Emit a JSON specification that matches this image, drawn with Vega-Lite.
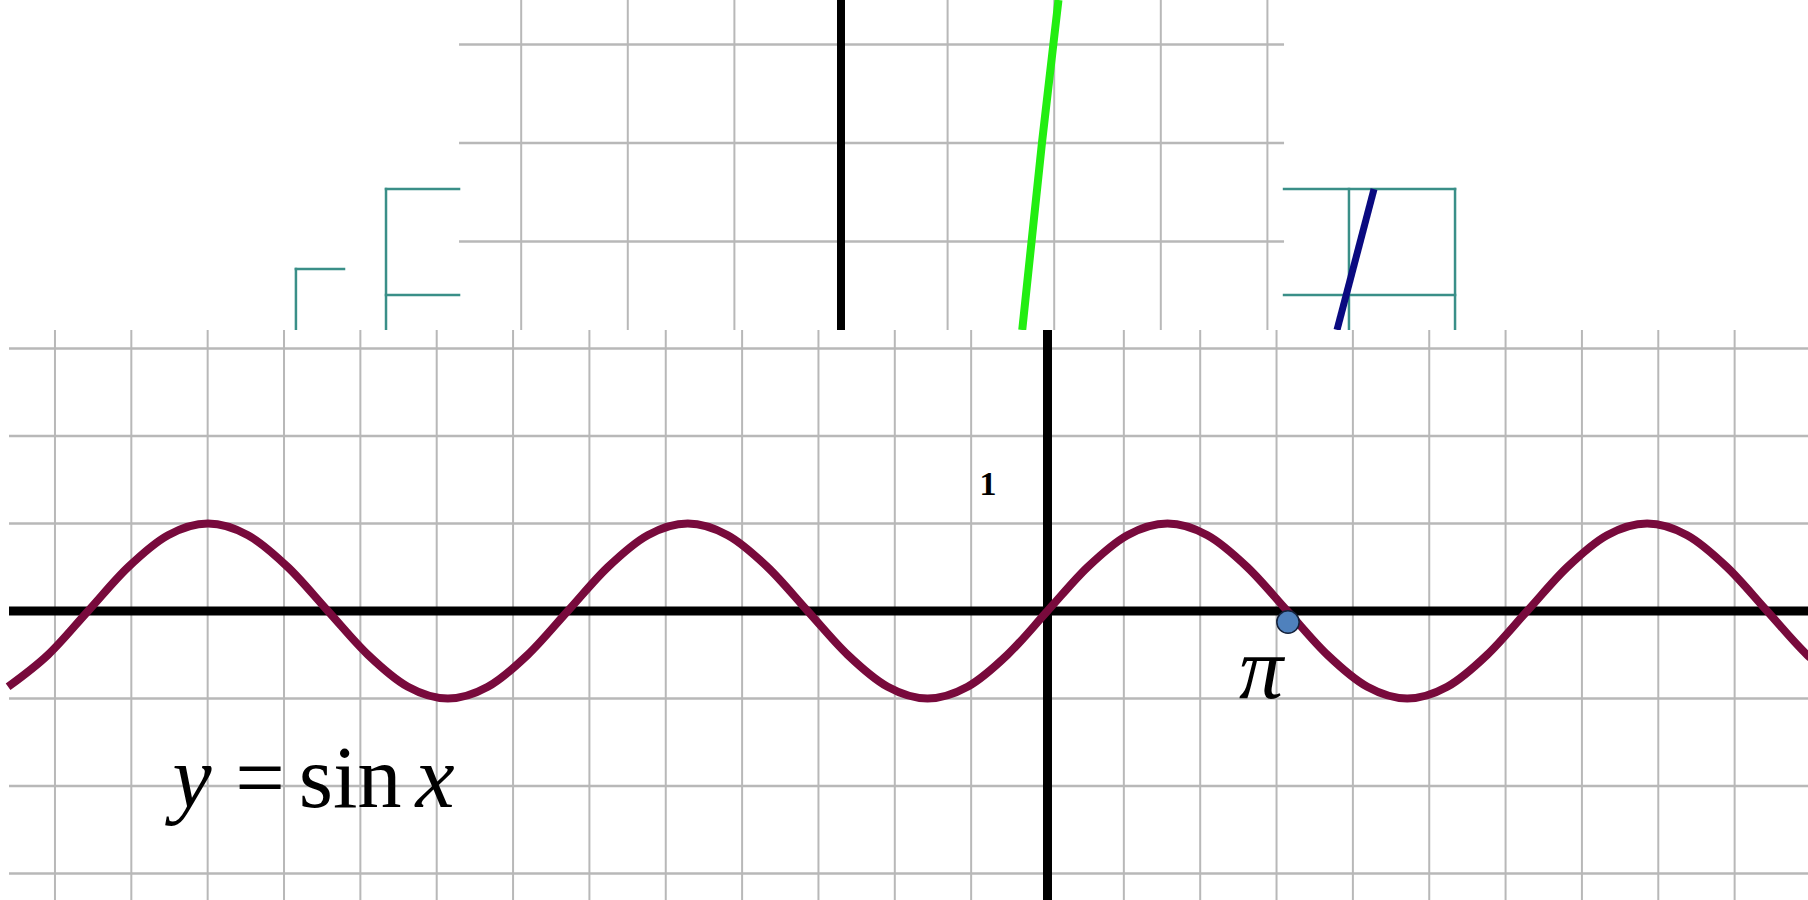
{
  "$schema": "https://vega.github.io/schema/vega-lite/v6.json",
  "width": 1808,
  "height": 900,
  "padding": 0,
  "autosize": {"type": "none"},
  "background": "white",
  "config": {"view": {"stroke": null}, "axis": {"disable": true}, "legend": {"disable": true}},
  "datasets": {
    "topGridV": [
      {"x": -3, "x2": -3, "y": 0.102, "y2": 3.452},
      {"x": -2, "x2": -2, "y": 0.102, "y2": 3.452},
      {"x": -1, "x2": -1, "y": 0.102, "y2": 3.452},
      {"x": 1, "x2": 1, "y": 0.102, "y2": 3.452},
      {"x": 2, "x2": 2, "y": 0.102, "y2": 3.452},
      {"x": 3, "x2": 3, "y": 0.102, "y2": 3.452},
      {"x": 4, "x2": 4, "y": 0.102, "y2": 3.452}
    ],
    "topGridH": [
      {"x": -3.583, "x2": 4.156, "y": 1, "y2": 1},
      {"x": -3.583, "x2": 4.156, "y": 2, "y2": 2},
      {"x": -3.583, "x2": 4.156, "y": 3, "y2": 3}
    ],
    "topAxis": [{"x": 0, "x2": 0, "y": 0.102, "y2": 3.452}],
    "teal": [
      {"x": -4.268, "x2": -4.268, "y": 0.102, "y2": 1.533},
      {"x": -4.268, "x2": -3.583, "y": 1.533, "y2": 1.533},
      {"x": -4.268, "x2": -3.583, "y": 0.457, "y2": 0.457},
      {"x": -5.113, "x2": -5.113, "y": 0.102, "y2": 0.721},
      {"x": -5.113, "x2": -4.662, "y": 0.721, "y2": 0.721},
      {"x": 4.156, "x2": 5.76, "y": 1.533, "y2": 1.533},
      {"x": 4.156, "x2": 5.76, "y": 0.457, "y2": 0.457},
      {"x": 4.765, "x2": 4.765, "y": 0.102, "y2": 1.533},
      {"x": 5.76, "x2": 5.76, "y": 0.102, "y2": 1.533}
    ],
    "green": [
      {"x": 2.04, "y": 3.452},
      {"x": 1.885, "y": 2.0},
      {"x": 1.7, "y": 0.102}
    ],
    "navy": [
      {"x": 5.0, "y": 1.533},
      {"x": 4.653, "y": 0.102}
    ],
    "panel": [{"x": -13.602, "x2": 9.961, "y": -3.303, "y2": 3.211}],
    "gridV": [
      {"x": -13, "x2": -13, "y": -3.303, "y2": 3.211},
      {"x": -12, "x2": -12, "y": -3.303, "y2": 3.211},
      {"x": -11, "x2": -11, "y": -3.303, "y2": 3.211},
      {"x": -10, "x2": -10, "y": -3.303, "y2": 3.211},
      {"x": -9, "x2": -9, "y": -3.303, "y2": 3.211},
      {"x": -8, "x2": -8, "y": -3.303, "y2": 3.211},
      {"x": -7, "x2": -7, "y": -3.303, "y2": 3.211},
      {"x": -6, "x2": -6, "y": -3.303, "y2": 3.211},
      {"x": -5, "x2": -5, "y": -3.303, "y2": 3.211},
      {"x": -4, "x2": -4, "y": -3.303, "y2": 3.211},
      {"x": -3, "x2": -3, "y": -3.303, "y2": 3.211},
      {"x": -2, "x2": -2, "y": -3.303, "y2": 3.211},
      {"x": -1, "x2": -1, "y": -3.303, "y2": 3.211},
      {"x": 1, "x2": 1, "y": -3.303, "y2": 3.211},
      {"x": 2, "x2": 2, "y": -3.303, "y2": 3.211},
      {"x": 3, "x2": 3, "y": -3.303, "y2": 3.211},
      {"x": 4, "x2": 4, "y": -3.303, "y2": 3.211},
      {"x": 5, "x2": 5, "y": -3.303, "y2": 3.211},
      {"x": 6, "x2": 6, "y": -3.303, "y2": 3.211},
      {"x": 7, "x2": 7, "y": -3.303, "y2": 3.211},
      {"x": 8, "x2": 8, "y": -3.303, "y2": 3.211},
      {"x": 9, "x2": 9, "y": -3.303, "y2": 3.211}
    ],
    "gridH": [
      {"x": -13.602, "x2": 9.961, "y": 3, "y2": 3},
      {"x": -13.602, "x2": 9.961, "y": 2, "y2": 2},
      {"x": -13.602, "x2": 9.961, "y": 1, "y2": 1},
      {"x": -13.602, "x2": 9.961, "y": -1, "y2": -1},
      {"x": -13.602, "x2": 9.961, "y": -2, "y2": -2},
      {"x": -13.602, "x2": 9.961, "y": -3, "y2": -3}
    ],
    "axes": [
      {"x": -13.602, "x2": 9.961, "y": 0, "y2": 0},
      {"x": 0, "x2": 0, "y": -3.303, "y2": 3.211}
    ],
    "sine": [
      {"x": -13.614, "y": -0.866}, {"x": -13.09, "y": -0.5}, {"x": -12.566, "y": 0},
      {"x": -12.043, "y": 0.5}, {"x": -11.519, "y": 0.866}, {"x": -10.996, "y": 1},
      {"x": -10.472, "y": 0.866}, {"x": -9.948, "y": 0.5}, {"x": -9.425, "y": 0},
      {"x": -8.901, "y": -0.5}, {"x": -8.378, "y": -0.866}, {"x": -7.854, "y": -1},
      {"x": -7.33, "y": -0.866}, {"x": -6.807, "y": -0.5}, {"x": -6.283, "y": 0},
      {"x": -5.76, "y": 0.5}, {"x": -5.236, "y": 0.866}, {"x": -4.712, "y": 1},
      {"x": -4.189, "y": 0.866}, {"x": -3.665, "y": 0.5}, {"x": -3.142, "y": 0},
      {"x": -2.618, "y": -0.5}, {"x": -2.094, "y": -0.866}, {"x": -1.571, "y": -1},
      {"x": -1.047, "y": -0.866}, {"x": -0.524, "y": -0.5}, {"x": 0, "y": 0},
      {"x": 0.524, "y": 0.5}, {"x": 1.047, "y": 0.866}, {"x": 1.571, "y": 1},
      {"x": 2.094, "y": 0.866}, {"x": 2.618, "y": 0.5}, {"x": 3.142, "y": 0},
      {"x": 3.665, "y": -0.5}, {"x": 4.189, "y": -0.866}, {"x": 4.712, "y": -1},
      {"x": 5.236, "y": -0.866}, {"x": 5.76, "y": -0.5}, {"x": 6.283, "y": 0},
      {"x": 6.807, "y": 0.5}, {"x": 7.33, "y": 0.866}, {"x": 7.854, "y": 1},
      {"x": 8.378, "y": 0.866}, {"x": 8.901, "y": 0.5}, {"x": 9.425, "y": 0},
      {"x": 9.948, "y": -0.5}, {"x": 10.472, "y": -0.866}
    ],
    "dot": [{"x": 3.15, "y": -0.126}],
    "italicLabels": [
      {"x": 2.796, "y": -0.994, "text": "π"},
      {"x": -11.204, "y": -2.24, "text": "y"},
      {"x": -8.022, "y": -2.24, "text": "x"}
    ],
    "romanLabels": [
      {"x": -10.314, "y": -2.24, "text": "="},
      {"x": -9.135, "y": -2.24, "text": "sin"}
    ],
    "tickLabels": [{"x": -0.779, "y": 1.326, "text": "1"}]
  },
  "resolve": {"scale": {"x": "independent", "y": "independent"}},
  "layer": [
    {
      "encoding": {
        "x": {"field": "x", "type": "quantitative", "scale": {"domain": [-7.889, 9.071], "nice": false, "zero": false}},
        "y": {"field": "y", "type": "quantitative", "scale": {"domain": [-5.685, 3.452], "nice": false, "zero": false}}
      },
      "layer": [
        {
          "data": {"name": "topGridV"},
          "mark": {"type": "rule", "color": "#b8b8b8", "strokeWidth": 2},
          "encoding": {"x2": {"field": "x2"}, "y2": {"field": "y2"}}
        },
        {
          "data": {"name": "topGridH"},
          "mark": {"type": "rule", "color": "#b8b8b8", "strokeWidth": 2.5},
          "encoding": {"x2": {"field": "x2"}, "y2": {"field": "y2"}}
        },
        {
          "data": {"name": "topAxis"},
          "mark": {"type": "rule", "color": "#000000", "strokeWidth": 8},
          "encoding": {"x2": {"field": "x2"}, "y2": {"field": "y2"}}
        },
        {
          "data": {"name": "teal"},
          "mark": {"type": "rule", "color": "#3a8f88", "strokeWidth": 2.5, "strokeCap": "square"},
          "encoding": {"x2": {"field": "x2"}, "y2": {"field": "y2"}}
        },
        {
          "data": {"name": "green"},
          "mark": {"type": "line", "color": "#22ee11", "strokeWidth": 8, "interpolate": "monotone", "clip": true}
        },
        {
          "data": {"name": "navy"},
          "mark": {"type": "line", "color": "#0a0a80", "strokeWidth": 7, "strokeCap": "butt", "clip": true}
        }
      ]
    },
    {
      "encoding": {
        "x": {"field": "x", "type": "quantitative", "scale": {"domain": [-13.72, 9.961], "nice": false, "zero": false}},
        "y": {"field": "y", "type": "quantitative", "scale": {"domain": [-3.303, 6.983], "nice": false, "zero": false}}
      },
      "layer": [
        {
          "data": {"name": "panel"},
          "mark": {"type": "rect", "color": "#ffffff"},
          "encoding": {"x2": {"field": "x2"}, "y2": {"field": "y2"}}
        },
        {
          "data": {"name": "gridV"},
          "mark": {"type": "rule", "color": "#b8b8b8", "strokeWidth": 2},
          "encoding": {"x2": {"field": "x2"}, "y2": {"field": "y2"}}
        },
        {
          "data": {"name": "gridH"},
          "mark": {"type": "rule", "color": "#b8b8b8", "strokeWidth": 2.5},
          "encoding": {"x2": {"field": "x2"}, "y2": {"field": "y2"}}
        },
        {
          "data": {"name": "axes"},
          "mark": {"type": "rule", "color": "#000000", "strokeWidth": 9},
          "encoding": {"x2": {"field": "x2"}, "y2": {"field": "y2"}}
        },
        {
          "data": {"name": "sine"},
          "mark": {"type": "line", "color": "#780a3c", "strokeWidth": 8, "interpolate": "monotone", "clip": true}
        },
        {
          "data": {"name": "dot"},
          "mark": {"type": "point", "shape": "circle", "filled": true, "size": 500, "fill": "#4f81bd", "stroke": "#14213a", "strokeWidth": 1.5, "opacity": 1}
        },
        {
          "data": {"name": "italicLabels"},
          "mark": {"type": "text", "font": "Liberation Serif", "fontStyle": "italic", "fontSize": 88, "align": "center", "baseline": "alphabetic", "color": "#000000"},
          "encoding": {"text": {"field": "text"}}
        },
        {
          "data": {"name": "romanLabels"},
          "mark": {"type": "text", "font": "Liberation Serif", "fontSize": 88, "align": "center", "baseline": "alphabetic", "color": "#000000"},
          "encoding": {"text": {"field": "text"}}
        },
        {
          "data": {"name": "tickLabels"},
          "mark": {"type": "text", "font": "Liberation Serif", "fontWeight": "bold", "fontSize": 34, "align": "center", "baseline": "alphabetic", "color": "#000000"},
          "encoding": {"text": {"field": "text"}}
        }
      ]
    }
  ]
}
